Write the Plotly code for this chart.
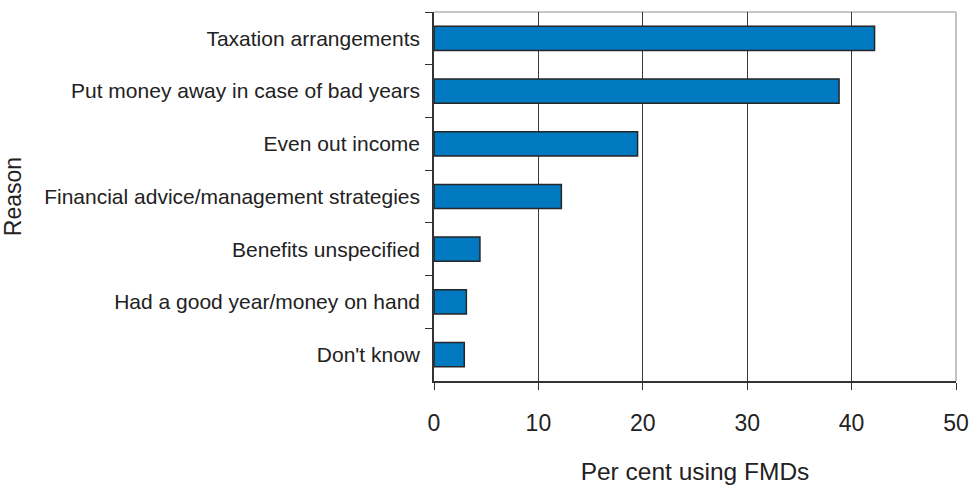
import plotly.graph_objects as go

reasons = [
    "Taxation arrangements",
    "Put money away in case of bad years",
    "Even out income",
    "Financial advice/management strategies",
    "Benefits unspecified",
    "Had a good year/money on hand",
    "Don't know",
]
percent = [42.2, 38.8, 19.5, 12.2, 4.4, 3.1, 2.9]
x_ticks = [0, 10, 20, 30, 40, 50]

font_family = "Liberation Sans, Arial, sans-serif"

fig = go.Figure(
    go.Bar(
        x=percent,
        y=reasons,
        orientation="h",
        marker=dict(color="#0079C1", line=dict(color="#262626", width=1.5)),
        hoverinfo="x+y",
    )
)

fig.update_layout(
    width=974,
    height=493,
    margin=dict(l=434, r=18, t=12, b=112),
    paper_bgcolor="white",
    plot_bgcolor="white",
    bargap=0.54,
    showlegend=False,
    font=dict(family=font_family, color="#222222"),
    shapes=[
        dict(type="line", xref="paper", yref="paper", x0=0, x1=1, y0=1, y1=1,
             line=dict(color="#b5b5b5", width=1.5), layer="below"),
        dict(type="line", xref="paper", yref="paper", x0=1, x1=1, y0=0, y1=1,
             line=dict(color="#b0b0b0", width=1.5), layer="above"),
    ],
)

fig.update_xaxes(
    range=[0, 50],
    tickvals=x_ticks,
    ticktext=[str(v) for v in x_ticks],
    automargin=False,
    showgrid=True,
    gridcolor="#3a3a3a",
    gridwidth=1,
    showline=True,
    linecolor="#333333",
    linewidth=1.5,
    ticks="outside",
    ticklen=7,
    tickcolor="#333333",
    tickfont=dict(size=23, family=font_family, color="#222222"),
    ticklabelstandoff=14,
    zeroline=False,
    title=dict(text="Per cent using FMDs", font=dict(size=24.5, family=font_family, color="#222222"), standoff=28),
)

fig.update_yaxes(
    categoryorder="array",
    categoryarray=reasons,
    autorange="reversed",
    tickson="boundaries",
    automargin=False,
    showgrid=False,
    showline=True,
    linecolor="#333333",
    linewidth=1.5,
    ticks="outside",
    ticklen=7,
    tickcolor="#333333",
    tickfont=dict(size=21, family=font_family, color="#222222"),
    ticklabelstandoff=8,
    title=dict(text="Reason", font=dict(size=23, family=font_family, color="#222222"), standoff=19),
)

fig.write_html("out.html")
